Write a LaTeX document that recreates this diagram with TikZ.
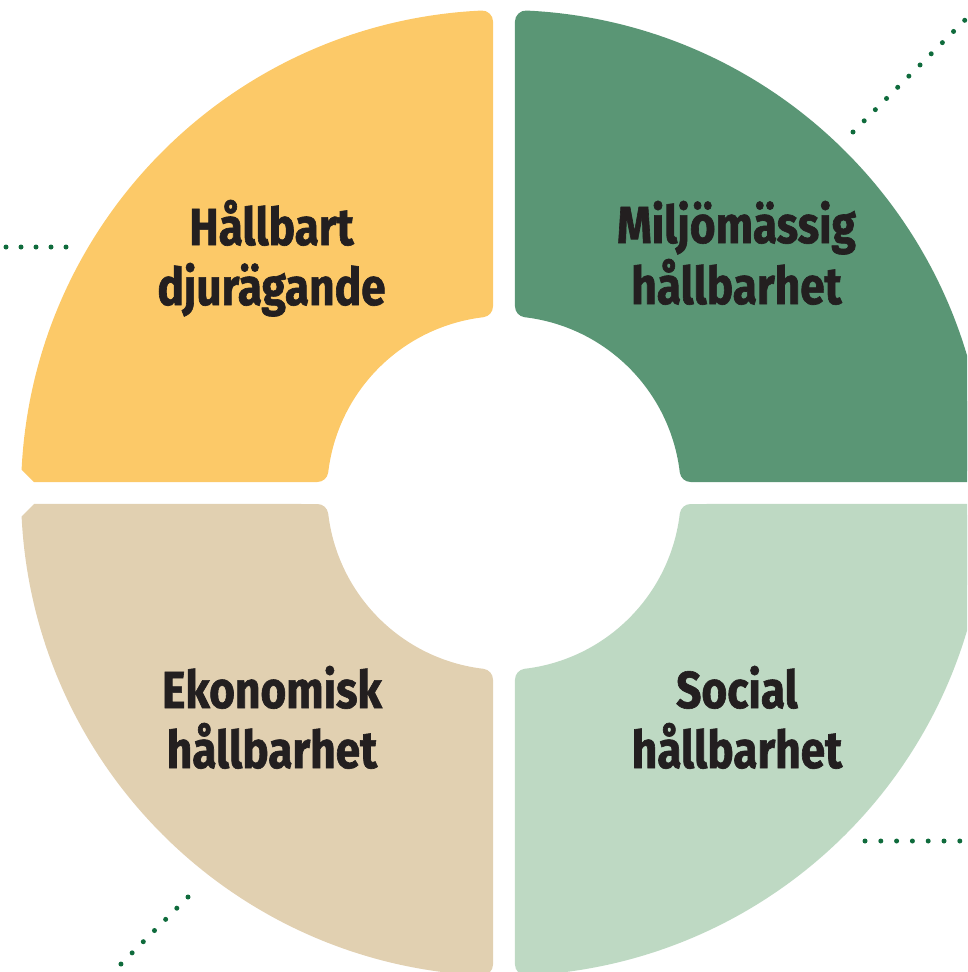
\documentclass[tikz,border=0pt]{standalone}
\usepackage{fontspec}
\newfontfamily\lblfont{Fira Sans}[FakeStretch=0.85, FakeBold=1.2]
\definecolor{yel}{HTML}{FCC968}
\definecolor{grn}{HTML}{5A9675}
\definecolor{bei}{HTML}{E1D0B1}
\definecolor{lgr}{HTML}{BED9C3}
\definecolor{txt}{HTML}{231F20}
\definecolor{dotc}{HTML}{0F6B3C}
\begin{document}
\begin{tikzpicture}[x=1pt,y=-1pt,
  seg/.style={line width=22pt, line join=round},
  lbl/.style={font=\lblfont\bfseries\fontsize{52}{60}\selectfont, text=txt, anchor=base, inner sep=0pt},
  dots/.style={draw=dotc, line width=5pt, line cap=round, dash pattern=on 0pt off 15.8pt}]
\useasboundingbox (0,0) rectangle (967,972);
\clip (0,0) rectangle (967,972);
\foreach \sx/\sy/\c in {1/1/yel, -1/1/grn, 1/-1/bei, -1/-1/lgr}{
  \begin{scope}[shift={(504,493)}, xscale=\sx, yscale=\sy]
    \clip (-600,-600) -- (0,-600) -- (0,0) -- (-459,0) -- (-600,-141) -- cycle;
    \filldraw[seg, fill=\c, draw=\c] (267.33:472) -- (263.28:188)
      arc[start angle=263.28, end angle=186.72, radius=188]
      -- (182.67:472)
      arc[start angle=182.67, end angle=267.33, radius=472] -- cycle;
  \end{scope}
}
% labels
\node[lbl] (y1) at (271.5,245) {Hållbart};
\node[lbl] (y2) at (271.5,305) {djurägande};
\node[lbl] (g1) at (736.5,243) {Miljömässig};
\node[lbl] (g2) at (736.5,304) {hållbarhet};
\node[lbl] (b1) at (272,708) {Ekonomisk};
\node[lbl] (b2) at (272,768) {hållbarhet};
\node[lbl] (s1) at (737,708) {Social};
\node[lbl] (s2) at (737,768) {hållbarhet};
% dotted leaders
\coordinate (l0) at (6,247);
\coordinate (l1) at (67,247);
\coordinate (t0) at (853,132);
\coordinate (t1) at (980,5);
\coordinate (r0) at (865,841);
\coordinate (r1) at (985,841);
\coordinate (d0) at (188,897);
\coordinate (d1) at (105,980);
\draw[dots, dash pattern=on 0pt off 15pt] (l0) -- (l1);
\draw[dots] (t0) -- (t1);
\draw[dots] (r0) -- (r1);
\draw[dots] (d0) -- (d1);
\end{tikzpicture}
\end{document}
